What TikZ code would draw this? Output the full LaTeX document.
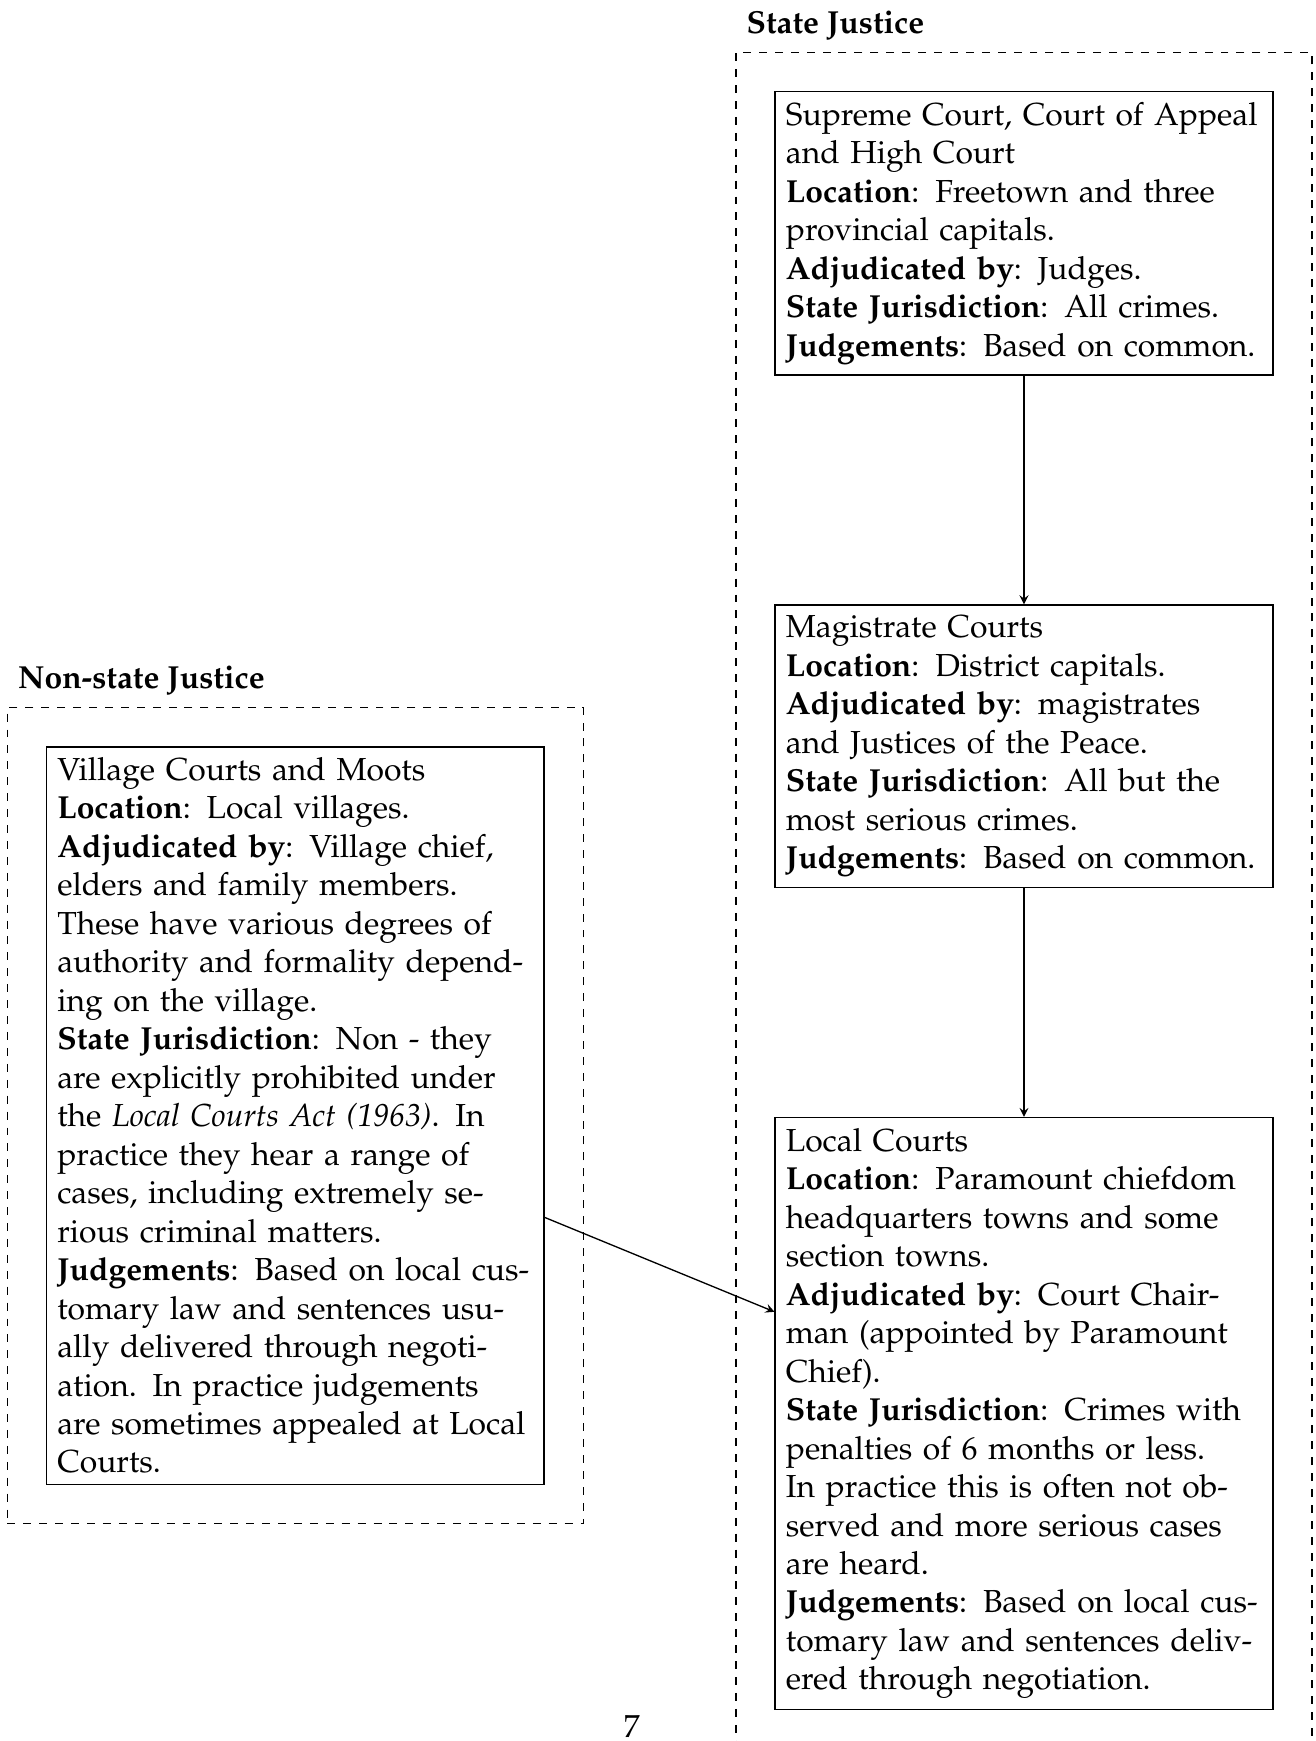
\documentclass[tikz,border=0pt,12pt]{standalone}
\usepackage[T1]{fontenc}
\usepackage{mathpazo}
\usepackage{tikz}
\usetikzlibrary{fit,positioning,arrows}

\begin{document}
\begin{tikzpicture}[x=1pt, y=1pt, node distance=3.03cm,
    court/.style={rectangle, draw, semithick, text width=179.5pt, align=left},
    group/.style={rectangle, draw, dashed, inner sep=14.5pt},
    grouplabel/.style={anchor=south west, font=\bfseries},
    link/.style={->, >=stealth, line width=0.5pt}]
  \useasboundingbox (0,0) rectangle (495.7,-656.2);
  % state courts, top to bottom
  \node[court, anchor=north west] (supreme) at (291.9,-34.2) {Supreme Court, Court of Appeal and High Court\\
    \textbf{Location}: Freetown and three provincial capitals.\\
    \textbf{Adjudicated by}: Judges.\\
    \textbf{State Jurisdiction}: All crimes.\\
    \textbf{Judgements}: Based on common.};
  \node[court, below=of supreme] (magistrate) {Magistrate Courts\\
    \textbf{Location}: District capitals.\\
    \textbf{Adjudicated by}: magistrates and Justices of the Peace.\\
    \textbf{State Jurisdiction}: All but the most serious crimes.\\
    \textbf{Judgements}: Based on common.};
  \node[court, below=of magistrate] (local) {Local Courts\\
    \textbf{Location}: Paramount chiefdom headquarters towns and some section towns.\\
    \textbf{Adjudicated by}: Court Chairman (appointed by Paramount Chief).\\
    \textbf{State Jurisdiction}: Crimes with penalties of 6 months or less. In practice this is often not observed and more serious cases are heard.\\
    \textbf{Judgements}: Based on local customary law and sentences delivered through negotiation.};
  % non-state court
  \node[court, anchor=north west] (village) at (17.3,-281.2) {Village Courts and Moots\\
    \textbf{Location}: Local villages.\\
    \textbf{Adjudicated by}: Village chief, elders and family members. These have various degrees of authority and formality depending on the village.\\
    \textbf{State Jurisdiction}: Non - they are explicitly prohibited under the \textit{Local Courts Act (1963)}. In practice they hear a range of cases, including extremely serious criminal matters.\\
    \textbf{Judgements}: Based on local customary law and sentences usually delivered through negotiation. In practice judgements are sometimes appealed at Local Courts.};
  % groups
  \node[group, fit=(supreme) (magistrate) (local)] (state) {};
  \node[group, fit=(village)] (nonstate) {};
  \node[grouplabel] (statelabel) at (state.north west) {State Justice};
  \node[grouplabel] (nonstatelabel) at (nonstate.north west) {Non-state Justice};
  % links
  \draw[link] (supreme) -- (magistrate);
  \draw[link] (magistrate) -- (local);
  \draw[link] (village) -- (local);
  \node[anchor=base, inner sep=0pt] (pagenum) at (238.1,-654.8) {7};
\end{tikzpicture}
\end{document}
